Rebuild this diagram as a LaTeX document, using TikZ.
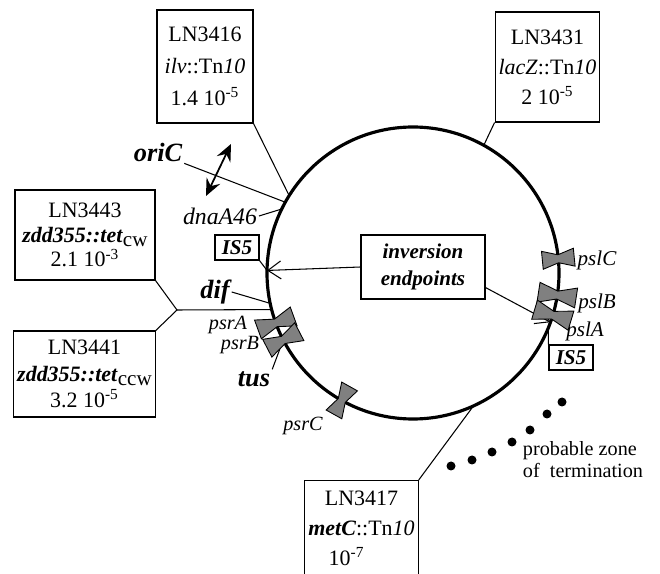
\documentclass[tikz,border=0pt]{standalone}
\usepackage{fontspec}
\setmainfont{Liberation Serif}
\usepackage{tikz}
\usetikzlibrary{arrows.meta,positioning,calc}
\newcommand{\ptsize}[2]{\fontsize{#1}{#2}\selectfont}
\newcommand{\expo}[1]{\textsuperscript{#1}}
\newcommand{\orient}[1]{\raisebox{-0.45ex}{\ptsize{12}{12}#1}}

\begin{document}
\begin{tikzpicture}[x=0.02cm,y=-0.02cm,>=Stealth,
  strain/.style={draw,line width=0.6pt,align=center,inner sep=2pt,font=\ptsize{12.5}{14}},
  lbl/.style={font=\ptsize{11.5}{11.5}\itshape,inner sep=1pt},
  big/.style={font=\ptsize{15}{15}\bfseries\itshape,inner sep=1pt},
  isbox/.style={draw,line width=0.6pt,font=\ptsize{12}{12}\bfseries\itshape,minimum width=0.88cm,minimum height=0.5cm,inner sep=1pt},
  note/.style={draw,line width=0.6pt,align=center,font=\ptsize{12}{15}\bfseries\itshape,minimum width=2.48cm,minimum height=1.28cm},
  conn/.style={line width=0.6pt},
  tsite/.style={draw=black,line width=0.5pt,fill=black!50}]
  \useasboundingbox (0,0) rectangle (660,574);
  \clip (0,0) rectangle (660,574);
  % chromosome
  \coordinate (c) at (413,273);
  \draw[line width=1.8pt] (c) circle[radius=146];
  \foreach \n/\a in {ilv/212,ori/209,dna/206,isl/181,dif/168,jn/165.5,lac/299,met/65.5,isr/22,invr/19.7}
    \coordinate (p-\n) at ($(c)+(\a:146)$);
  \foreach \n/\a in {psrA/160,psrB/152.7,psrC/119.2,pslC/354.4,pslB/8.7,pslA/16.8}
    \coordinate (s-\n) at ($(c)+(\a:146)$);
  % strains
  \node[strain,minimum width=1.92cm,minimum height=2.26cm](ln3416) at (205,66.5){LN3416\\[4pt]\textit{ilv}::Tn\textit{10}\\[4pt]1.4 10\expo{-5}};
  \node[strain,minimum width=2.06cm,minimum height=2.2cm](ln3431) at (547.5,67){LN3431\\[3pt]\textit{lacZ}::Tn\textit{10}\\[3pt]2 10\expo{-5}};
  \node[strain,minimum width=2.8cm,minimum height=1.8cm](ln3443) at (85,235){LN3443\\\textbf{\textit{zdd355::tet}}\orient{cw}\\2.1 10\expo{-3}};
  \node[strain,minimum width=2.82cm,minimum height=1.72cm](ln3441) at (84.5,374){LN3441\\[1pt]\textbf{\textit{zdd355::tet}}\orient{ccw}\\[1pt]3.2 10\expo{-5}};
  \node[strain,minimum width=2.26cm,minimum height=1.9cm](ln3417) at (361.5,528){LN3417\\[3pt]\textbf{\textit{metC}}::Tn\textit{10}\\[3pt]10\expo{-7}\hspace*{0.6cm}};
  \coordinate (jn) at (177,310);
  % labels
  \node[big](oric) at (158,152){oriC};
  \node[lbl,font=\ptsize{13.5}{13.5}\itshape](dna) at (220,216){dnaA46};
  \node[isbox](is-l) at (237,247.5){IS5};
  \node[big](dif) at (215,292){dif};
  \node[lbl](psra) at (228,325){psrA};
  \node[lbl](psrb) at (240,345){psrB};
  \node[big](tus) at (254,379){tus};
  \node[lbl](psrc) at (303,426){psrC};
  \node[lbl,font=\ptsize{12}{12}\itshape](pslc) at (597,260){pslC};
  \node[lbl,font=\ptsize{12}{12}\itshape](pslb) at (597,303){pslB};
  \node[lbl,font=\ptsize{12}{12}\itshape](psla) at (585,331){pslA};
  \node[isbox](is-r) at (571,357.5){IS5};
  \node[note](inv) at (423,267){inversion\\endpoints};
  \node[font=\ptsize{11.5}{12.5},align=left,inner sep=0pt](zone) at (583,460){probable zone\\of\ \ termination};
  % connectors
  \draw[conn](ln3416.south east)--(p-ilv);
  \draw[conn](ln3431.south west)--(p-lac);
  \draw[conn](ln3443.south east)--(jn)--(ln3441.north east);
  \draw[conn](jn)--(p-jn);
  \draw[conn](ln3417.north east)--(p-met);
  \draw[conn](oric.south east)--(p-ori);
  \draw[conn](dna.east)--(p-dna);
  \draw[conn](is-l.south east)--(p-isl);
  \draw[conn](dif.east)--(p-dif);
  \draw[conn](tus.north east)--(s-psrB);
  \draw[conn](p-isr)--(is-r.north west);
  \draw[conn,-{Straight Barb[length=2.6mm,width=3.6mm]}](inv.west)--(p-isl);
  \draw[conn,-{Straight Barb[length=2.6mm,width=3.6mm]}]([yshift=0.24cm]inv.south east)--(p-invr);
  \coordinate (sw-a) at (206,196);
  \coordinate (sw-b) at (231,144);
  \draw[line width=1pt,{Stealth[length=3.4mm,width=3mm,inset=1.2mm]}-{Stealth[length=3.4mm,width=3mm,inset=1.2mm]}](sw-a)--(sw-b);
  % termination sites
  \foreach \n/\a/\l/\w in {psrA/160/19/10,psrB/152.7/18/10,psrC/119.2/16/9,pslC/354.4/16/9,pslB/8.7/19/10,pslA/16.8/19/10}
    \draw[tsite,shift={(s-\n)},rotate=-\a](-\l,-\w)--(0,-4)--(\l,-\w)--(\l,\w)--(0,4)--(-\l,\w)--cycle;
  % probable zone of termination
  \foreach \p in {(562,402),(547,414),(530,430),(512,442),(492,452),(472,460),(451,466)}
    \fill \p circle[radius=4.5];
\end{tikzpicture}
\end{document}
